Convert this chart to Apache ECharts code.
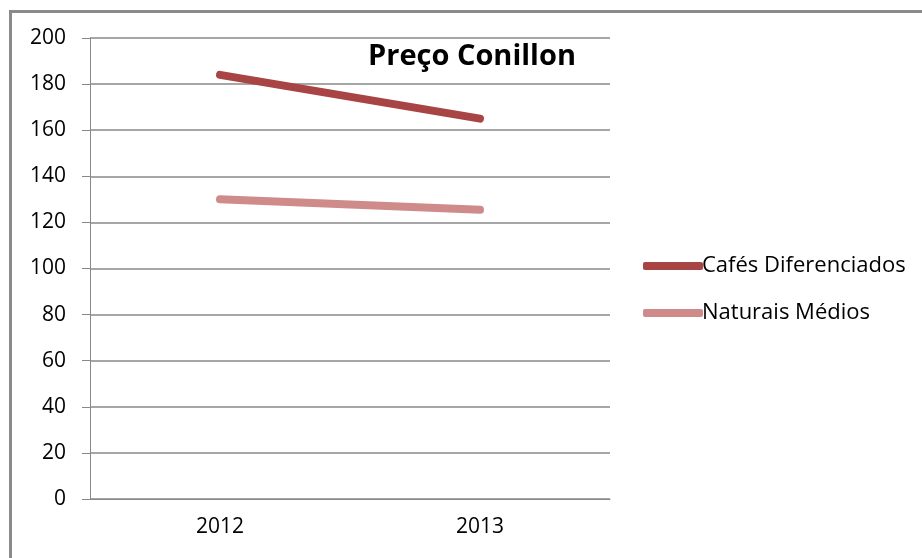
<!DOCTYPE html>
<html lang="pt">
<head>
    <meta charset="UTF-8">
    <title>Preço Conillon</title>
    <script src="https://cdn.jsdelivr.net/npm/echarts@6/dist/echarts.min.js"></script>
    <style>
        body { margin: 0; background: #fff; }
    </style>
</head>
<body>
    <div id="main" style="width: 922px;height:558px;"></div>
    <script>
// dados
var anos = ['2012', '2013'];
var cafesDiferenciados = [184, 165];
var naturaisMedios = [130, 125.5];
var fonte = 'Open Sans';

var myChart = echarts.init(document.getElementById('main'));

var option = {
    animation: false,
    backgroundColor: '#fff',
    graphic: [{
        // moldura cinza (só esquerda e topo aparecem)
        type: 'rect',
        shape: { x: 10.5, y: 11.5, width: 1000, height: 1000 },
        style: { fill: 'none', stroke: '#8a8a8a', lineWidth: 3 },
        silent: true
    }],
    title: {
        text: 'Preço Conillon',
        left: 363,
        top: 37,
        textStyle: { fontFamily: fonte, fontWeight: 'bold', fontSize: 29, color: '#000' }
    },
    legend: {
        orient: 'vertical',
        left: 638,
        top: 250,
        itemWidth: 60,
        itemHeight: 8,
        itemGap: 25,
        icon: 'roundRect',
        textStyle: { fontFamily: fonte, fontSize: 22, color: '#000', padding: [0, 0, 0, -6] },
        data: ['Cafés Diferenciados', 'Naturais Médios']
    },
    grid: { left: 90, right: 312, top: 38, bottom: 59 },
    xAxis: {
        type: 'category',
        data: anos,
        boundaryGap: true,
        axisLine: { lineStyle: { color: '#888', width: 1 } },
        axisTick: { length: 8, lineStyle: { color: '#888' } },
        axisLabel: { margin: 18, fontFamily: fonte, fontSize: 21, color: '#000' }
    },
    yAxis: {
        type: 'value',
        min: 0,
        max: 200,
        interval: 20,
        axisLine: { show: true, lineStyle: { color: '#888', width: 1 } },
        axisTick: { show: true, length: 8, lineStyle: { color: '#888' } },
        axisLabel: { margin: 24, fontFamily: fonte, fontSize: 21, color: '#000' },
        splitLine: { lineStyle: { color: '#888', width: 1.5 } }
    },
    series: [
        {
            name: 'Cafés Diferenciados',
            type: 'line',
            data: cafesDiferenciados,
            symbol: 'none',
            itemStyle: { color: '#a84444' },
            lineStyle: { color: '#a84444', width: 8, cap: 'round' }
        },
        {
            name: 'Naturais Médios',
            type: 'line',
            data: naturaisMedios,
            symbol: 'none',
            itemStyle: { color: '#cf8a8a' },
            lineStyle: { color: '#cf8a8a', width: 8, cap: 'round' }
        }
    ]
};

myChart.setOption(option);
    </script>
</body>
</html>
